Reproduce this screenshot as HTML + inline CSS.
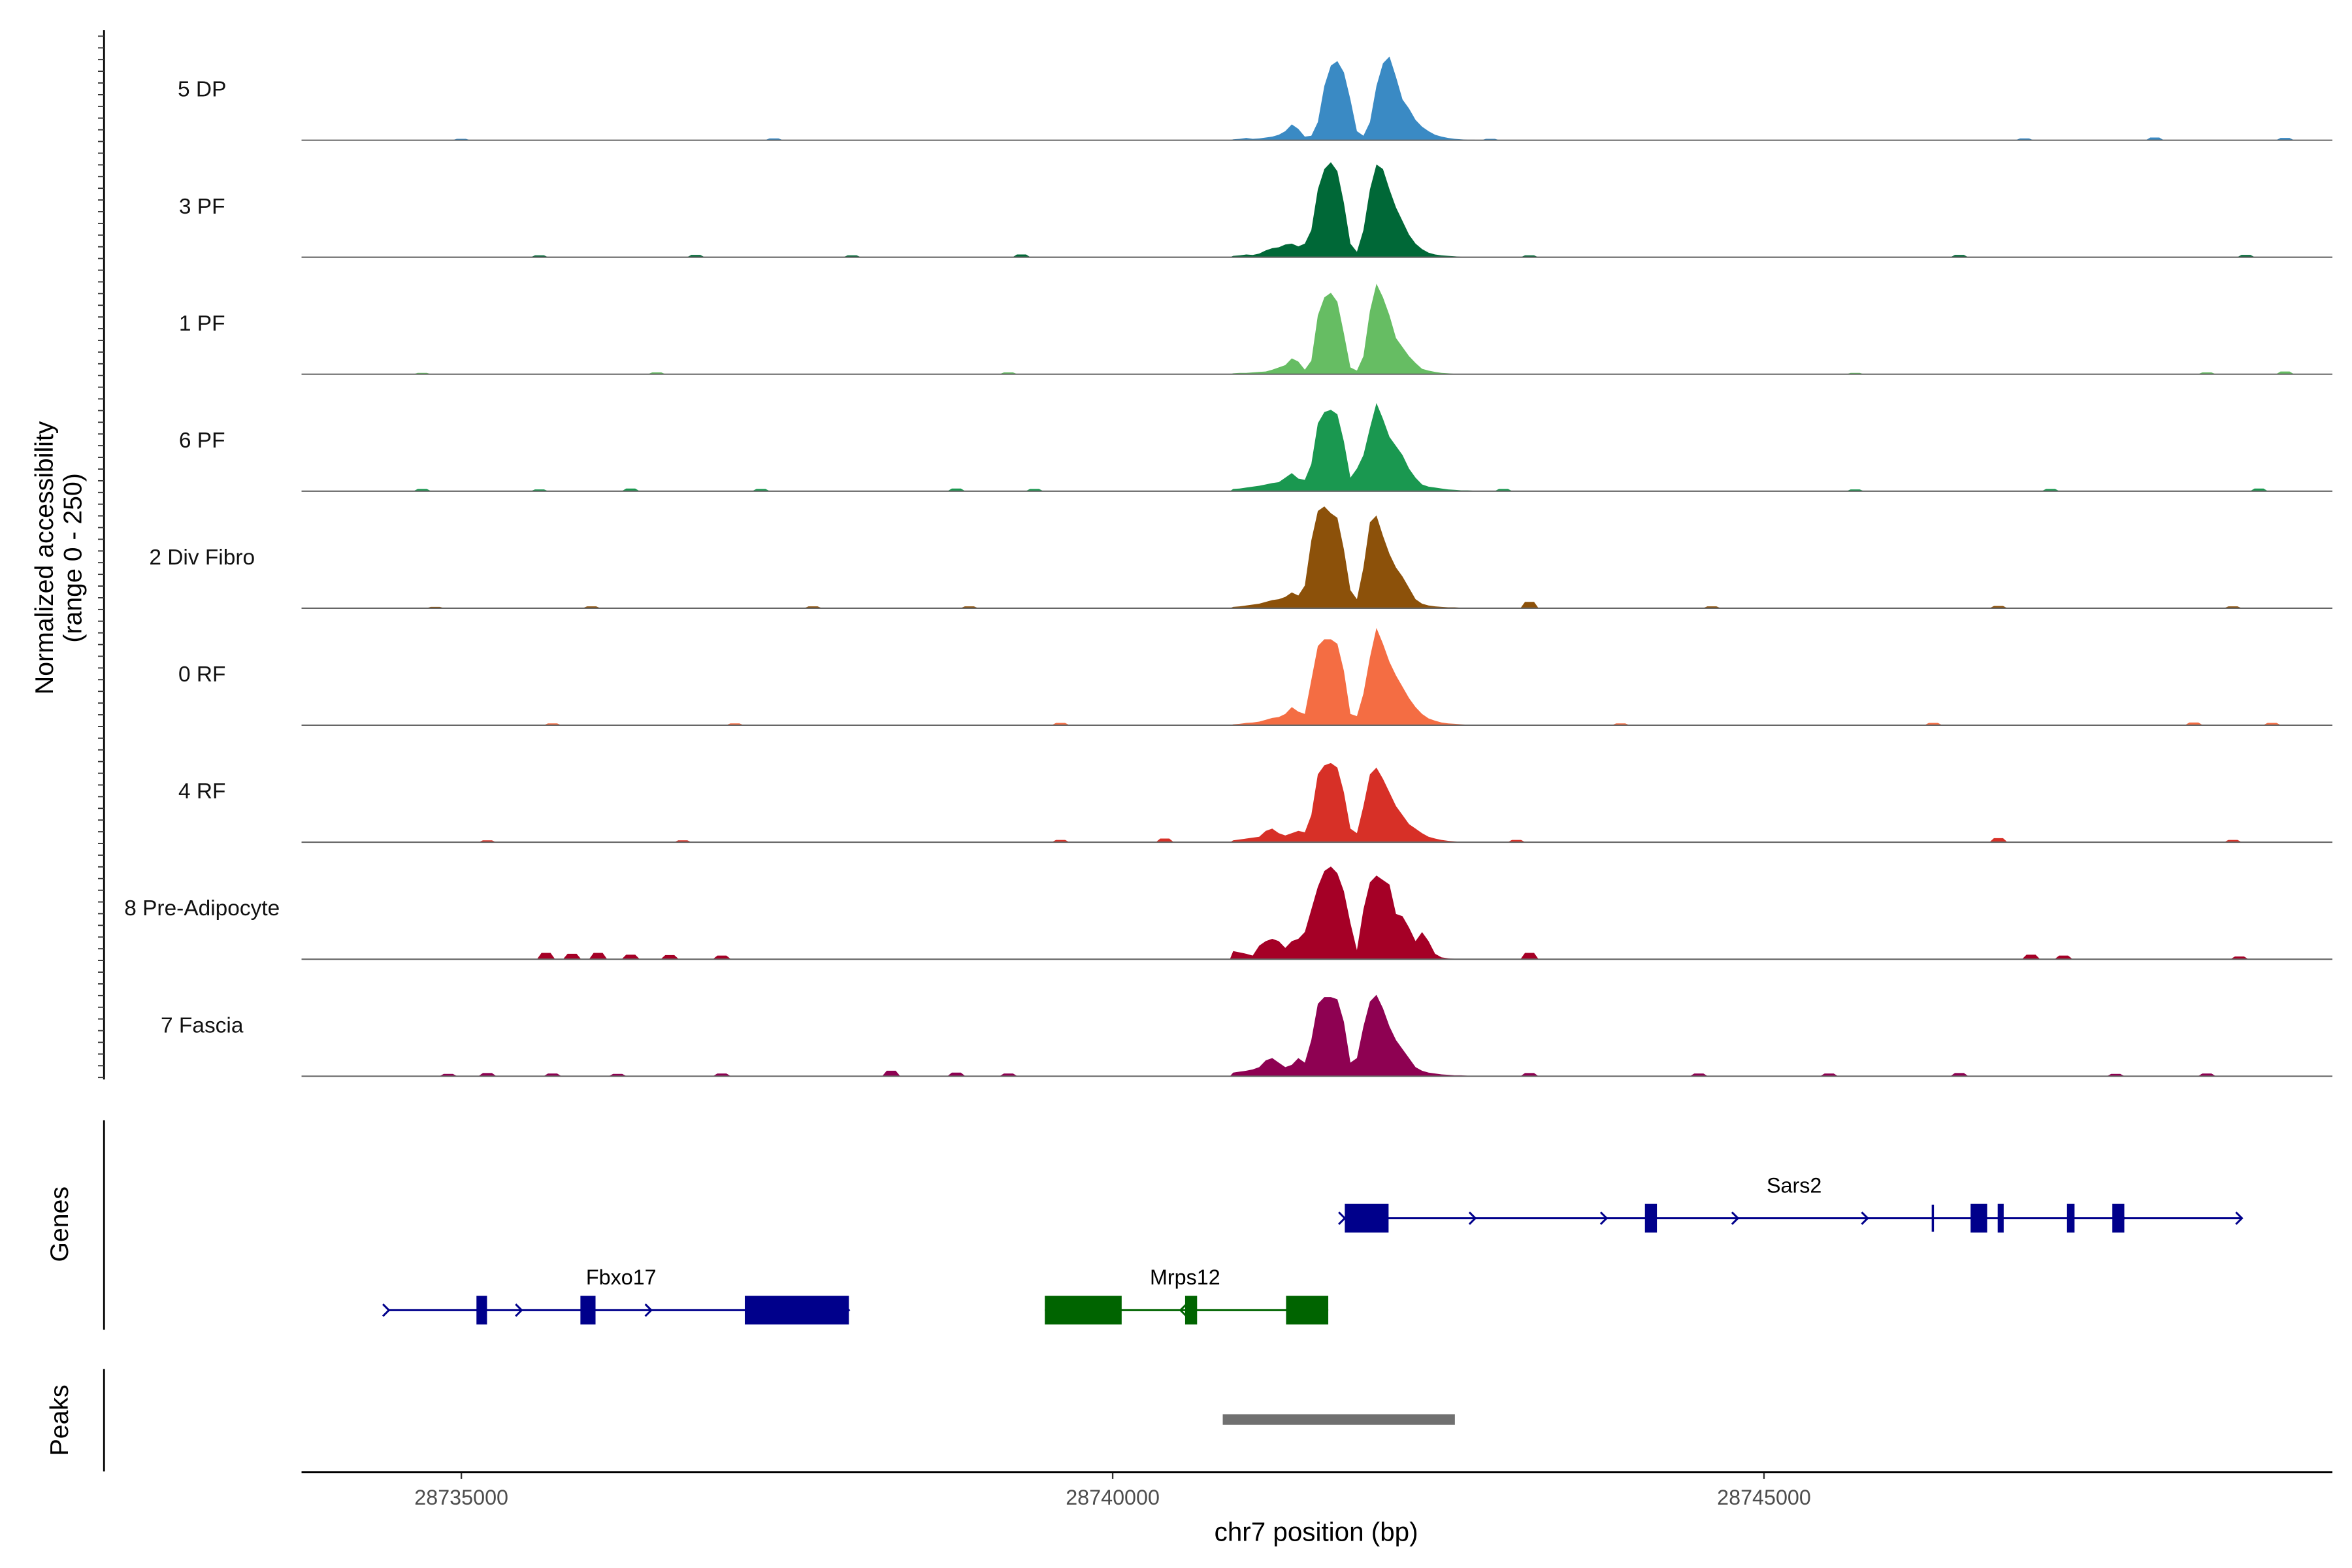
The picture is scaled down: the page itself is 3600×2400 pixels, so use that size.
<!DOCTYPE html>
<html><head><meta charset="utf-8"><style>
html,body{margin:0;padding:0;background:#fff}
svg{display:block}
text{font-family:"Liberation Sans",Arial,sans-serif}
</style></head><body>
<svg id="chart" width="3600" height="2400" viewBox="0 0 1560 1040" xmlns="http://www.w3.org/2000/svg">
<g id="tracks"></g>
<g id="genes"></g>
<g id="axes"></g>
</svg>
<script>
// ---- data ----
const trackNames = ["5 DP","3 PF","1 PF","6 PF","2 Div Fibro","0 RF","4 RF","8 Pre-Adipocyte","7 Fascia"];
const trackColors = ["#3a8ac4","#006837","#66bd63","#1a9850","#8c510a","#f46d43","#d73027","#a50026","#8e0152"];
const binStart = 28740900;
const binSize = 50;
// coverage (0-250) in 50bp bins from 28740900
const cov5DP   = [2,3,5,3,4,6,8,12,20,35,25,8,10,40,120,165,175,150,90,20,10,40,120,170,185,140,90,70,45,30,20,12,8,5,3,2,1,1,0];
const cov3PF   = [3,4,6,5,8,15,20,22,28,30,24,30,60,150,195,210,190,120,30,12,60,150,205,195,150,110,80,50,30,18,10,6,4,3,2,1,1,0,0];
const cov1PF   = [2,3,3,4,5,6,10,15,20,35,28,10,30,130,170,180,160,90,15,8,40,140,200,170,130,80,60,40,25,12,8,5,3,2,1,1,0,0,0];
const cov6PF   = [5,6,8,10,12,15,18,20,30,40,28,25,60,150,175,180,170,110,30,50,80,140,195,160,120,100,80,50,30,15,10,8,6,4,3,2,2,1,1];
const cov2Div  = [3,4,6,8,10,14,18,20,25,35,28,50,150,215,225,210,200,130,40,20,90,190,205,160,120,90,70,45,20,10,6,4,3,2,2,1,1,0,0];
const cov0RF   = [2,3,5,6,8,12,16,18,25,40,30,25,100,175,190,190,180,120,25,20,70,150,215,180,140,110,85,60,40,25,15,10,6,4,3,2,1,1,0];
const cov4RF   = [4,6,8,10,12,25,30,20,15,20,25,22,60,150,170,175,165,110,30,20,80,150,165,140,110,80,60,40,30,20,12,8,5,3,2,1,1,0,0];
const cov8Pre  = [18,15,12,8,30,40,45,40,25,40,45,60,110,160,195,205,190,150,80,20,110,170,185,175,165,100,95,70,40,60,40,12,4,2,1,0,0,0,0];
const cov7Fasc = [8,10,12,15,20,35,40,30,20,25,40,30,80,160,175,175,170,120,30,40,110,165,180,150,110,80,60,40,20,12,8,6,4,3,2,2,1,1,0];
const covs = [cov5DP,cov3PF,cov1PF,cov6PF,cov2Div,cov0RF,cov4RF,cov8Pre,cov7Fasc];
// background bumps: [bp, value]
const bumps5DP  = [[28735000,3],[28737400,4],[28742900,3],[28747000,4],[28748000,6],[28749000,5]];
const bumps3PF  = [[28735600,4],[28736800,5],[28738000,4],[28739300,6],[28743200,4],[28746500,5],[28748700,5]];
const bumps1PF  = [[28734700,3],[28736500,4],[28739200,4],[28745700,3],[28748400,4],[28749000,6]];
const bumps6PF  = [[28734700,5],[28735600,4],[28736300,6],[28737300,5],[28738800,6],[28739400,5],[28743000,5],[28745700,4],[28747200,5],[28748800,6]];
const bumps2Div = [[28734800,3],[28736000,4],[28737700,4],[28738900,4],[28743200,14],[28744600,4],[28746800,5],[28748600,4]];
const bumps0RF  = [[28735700,4],[28737100,4],[28739600,5],[28743900,4],[28746300,5],[28748300,6],[28748900,5]];
const bumps4RF  = [[28735200,4],[28736700,4],[28739600,5],[28740400,8],[28743100,5],[28746800,9],[28748600,5]];
const bumps8Pre = [[28735650,14],[28735850,12],[28736050,14],[28736300,10],[28736600,9],[28737000,8],[28743200,14],[28747050,10],[28747300,8],[28748650,6]];
const bumps7Fas = [[28734900,5],[28735200,7],[28735700,6],[28736200,5],[28737000,6],[28738300,12],[28738800,8],[28739200,6],[28743200,7],[28744500,6],[28745500,6],[28746500,7],[28747700,5],[28748400,6]];
const bumps = [bumps5DP,bumps3PF,bumps1PF,bumps6PF,bumps2Div,bumps0RF,bumps4RF,bumps8Pre,bumps7Fas];
// genes: [start,end]
const sars2Line = [28741782,28748669];
const sars2Exons = [[28741782,28742118],[28744086,28744178],[28746586,28746713],[28746794,28746840],[28747326,28747384],[28747674,28747766]];
const sars2Tick = 28746296;
const fbxoLine = [28734444,28737975];
const fbxoExons = [[28735116,28735197],[28735914,28736030],[28737176,28737975]];
const mrpsLine = [28739479,28741655];
const mrpsExons = [[28739479,28740069],[28740556,28740648],[28741331,28741655]];
const peakRange = [28740845,28742627];
const xTicks = [28735000,28740000,28745000];

// ---- scales ----
const X0 = 200, X1 = 1547;
const xs = bp => 306 + (bp - 28735000) * 0.0864;
const baseY = i => 93 + i * 77.6;
const ys = (i, v) => baseY(i) - v / 250 * 75;
const NS = "http://www.w3.org/2000/svg";
function mk(tag, attrs, parent, txt){
  const e = document.createElementNS(NS, tag);
  for (const k in attrs) e.setAttribute(k, attrs[k]);
  if (txt !== undefined) e.textContent = txt;
  parent.appendChild(e);
  return e;
}
const gT = document.getElementById('tracks');
const gG = document.getElementById('genes');
const gA = document.getElementById('axes');

trackNames.forEach((name, i) => {
  const g = mk('g', {}, gT);
  
  
  const b = baseY(i);
  let d = 'M' + xs(binStart) + ',' + b;
  covs[i].forEach((v, k) => {
    d += ' L' + xs(binStart + k * binSize + 25).toFixed(2) + ',' + ys(i, v).toFixed(2);
  });
  d += ' L' + xs(binStart + covs[i].length * binSize) + ',' + b + ' Z';
  const p = mk('path', {d: d, fill: trackColors[i]}, g);
  
  
  bumps[i].forEach(([bp, v]) => {
    const bx = xs(bp);
    const bm = mk('path', {d: `M${bx-6},${b} L${bx-3},${ys(i,v)} L${bx+3},${ys(i,v)} L${bx+6},${b} Z`, fill: trackColors[i]}, g);
    
    
  });
  const bl = mk('line', {x1: X0, x2: X1, y1: b, y2: b, stroke: '#666', 'stroke-width': 0.9}, g);
  
  
  const lb = mk('text', {x: 134, y: b - 29, 'text-anchor': 'middle', 'font-size': 14.5, fill: '#111'}, g, name);
  
  
});

const ax = mk('line', {x1: 69, x2: 69, y1: 20, y2: 716, stroke: '#000', 'stroke-width': 1.2}, gA);


for (let y = 24; y <= 716; y += 7.76) {
  const t = mk('line', {x1: 65, x2: 69, y1: y, y2: y, stroke: '#333', 'stroke-width': 0.8}, gA);
  
  
}
const yt = mk('text', {transform: 'translate(35,370) rotate(-90)', 'text-anchor': 'middle', 'font-size': 17, fill: '#000'}, gA);


mk('tspan', {x: 0, dy: 0}, yt, 'Normalized accessibility');
mk('tspan', {x: 0, dy: 19}, yt, '(range 0 - 250)');

const ga = mk('line', {x1: 69, x2: 69, y1: 743, y2: 882, stroke: '#000', 'stroke-width': 1.2}, gA);


const gt = mk('text', {transform: 'translate(45,812) rotate(-90)', 'text-anchor': 'middle', 'font-size': 17}, gA, 'Genes');


const pa = mk('line', {x1: 69, x2: 69, y1: 908, y2: 976, stroke: '#000', 'stroke-width': 1.2}, gA);


const pt = mk('text', {transform: 'translate(45,942) rotate(-90)', 'text-anchor': 'middle', 'font-size': 17}, gA, 'Peaks');



function drawGene(name, line, exons, y, color, dir, labelX, arrowsBp){
  const g = mk('g', {}, gG);
  
  
  mk('line', {x1: xs(line[0]), x2: xs(line[1]), y1: y, y2: y, stroke: color, 'stroke-width': 1.3}, g);
  exons.forEach(([s, e]) => {
    const r = mk('rect', {x: xs(s), y: y - 9.5, width: Math.max(1, xs(e) - xs(s)), height: 19, fill: color}, g);
    
    
  });
  arrowsBp.forEach(bp => {
    const x = xs(bp);
    const d = dir > 0 ? `M${x-4},${y-4} L${x},${y} L${x-4},${y+4}` : `M${x+4},${y-4} L${x},${y} L${x+4},${y+4}`;
    mk('path', {d: d, stroke: color, fill: 'none', 'stroke-width': 1.3}, g);
  });
  const t = mk('text', {x: labelX, y: y - 17, 'text-anchor': 'middle', 'font-size': 14}, g, name);
  
  
  return g;
}
const sg = drawGene('Sars2', sars2Line, sars2Exons, 808, '#00008b', 1, 1190, [28741782,28742784,28743792,28744800,28745796,28747766,28748669]);
mk('line', {x1: xs(sars2Tick), x2: xs(sars2Tick), y1: 799, y2: 817, stroke: '#00008b', 'stroke-width': 1.5}, sg);
drawGene('Fbxo17', fbxoLine, fbxoExons, 869, '#00008b', 1, 412, [28734444,28735463,28736458,28737975]);
drawGene('Mrps12', mrpsLine, mrpsExons, 869, '#006400', -1, 786, [28740520]);

const pk = mk('rect', {x: xs(peakRange[0]), y: 938, width: xs(peakRange[1]) - xs(peakRange[0]), height: 7, fill: '#707070'}, gG);



const xa = mk('line', {x1: X0, x2: X1, y1: 976.5, y2: 976.5, stroke: '#000', 'stroke-width': 1.3}, gA);


xTicks.forEach(v => {
  const x = xs(v);
  const tk = mk('line', {x1: x, x2: x, y1: 977, y2: 981, stroke: '#333', 'stroke-width': 1}, gA);
  
  
  const tl = mk('text', {x: x, y: 998, 'text-anchor': 'middle', 'font-size': 14, fill: '#4d4d4d'}, gA, String(v));
  
  
});
const xt = mk('text', {x: 873, y: 1022, 'text-anchor': 'middle', 'font-size': 17.5}, gA, 'chr7 position (bp)');


</script>
</body></html>
